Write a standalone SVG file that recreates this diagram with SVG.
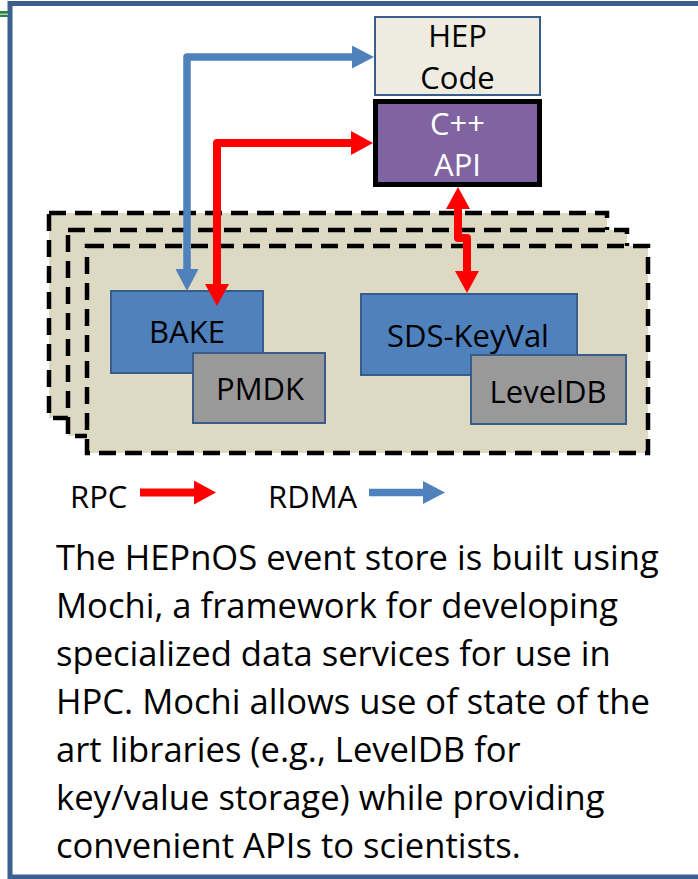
<svg xmlns="http://www.w3.org/2000/svg" width="698" height="879" viewBox="0 0 698 879">
<style>
text{font-family:"Open Sans","Liberation Sans",sans-serif;font-size:31px;fill:#000}
.c{text-anchor:middle}
.w{fill:#fff}
.p{font-size:34.6px}
.box{stroke:#385D8A;stroke-width:2}
.blue{fill:#4F81BD}
.gray{fill:#999999}
.stack{fill:#DDD9C3;stroke:#000;stroke-width:4.5;stroke-dasharray:17 9}
.red{fill:none;stroke:#FF0000;stroke-width:8;stroke-linejoin:round}
.rdma{fill:none;stroke:#4F81BD;stroke-width:7.5;stroke-linejoin:round}
</style>
<defs>
<marker id="hr" viewBox="0 0 22 24" refX="0" refY="12" markerWidth="22" markerHeight="24" markerUnits="userSpaceOnUse" orient="auto-start-reverse"><path d="M0,0 L22,12 L0,24 Z" fill="#FF0000"/></marker>
<marker id="hb" viewBox="0 0 22 23" refX="0" refY="11.5" markerWidth="22" markerHeight="23" markerUnits="userSpaceOnUse" orient="auto-start-reverse"><path d="M0,0 L22,11.5 L0,23 Z" fill="#4F81BD"/></marker>
</defs>
<rect x="10" y="3.5" width="700" height="873.5" fill="#fff" stroke="#3B5F8F" stroke-width="5"/>
<rect x="0" y="11" width="8" height="6" fill="#2E7D4F"/>
<rect x="0" y="13.5" width="8" height="1.5" fill="#A8D5B0"/>
<g id="stack">
<rect class="stack" x="49" y="213" width="558" height="205"/>
<rect class="stack" x="68" y="230" width="559" height="206"/>
<rect class="stack" x="87" y="246" width="561" height="207"/>
</g>
<g id="hep-code">
<rect class="box" x="375" y="17" width="165" height="78" fill="#EEECE1"/>
<text class="c" x="457.5" y="47">HEP</text>
<text class="c" x="457.5" y="89">Code</text>
</g>
<g id="cpp-api">
<rect x="375.5" y="101.5" width="164" height="83" fill="#8064A2" stroke="#000" stroke-width="5"/>
<text class="c w" x="457.5" y="135">C++</text>
<text class="c w" x="457.5" y="176">API</text>
</g>
<g id="bake">
<rect class="box blue" x="111" y="291" width="152" height="82"/>
<text class="c" x="187" y="343">BAKE</text>
</g>
<g id="pmdk">
<rect class="box gray" x="193" y="353" width="132" height="70"/>
<text class="c" x="260" y="400">PMDK</text>
</g>
<g id="sds-keyval">
<rect class="box blue" x="361" y="294" width="216" height="81"/>
<text class="c" x="468" y="347">SDS-KeyVal</text>
</g>
<g id="leveldb">
<rect class="box gray" x="471" y="355" width="155" height="69"/>
<text class="c" x="548" y="403">LevelDB</text>
</g>
<g id="connectors">
<path class="rdma" d="M187,269 V57 H352" marker-start="url(#hb)" marker-end="url(#hb)"/>
<path class="red" d="M217,284 V143 H351" marker-start="url(#hr)" marker-end="url(#hr)"/>
<path class="red" d="M458,209 V238 H467 V271" marker-start="url(#hr)" marker-end="url(#hr)"/>
</g>
<g id="legend">
<text x="70" y="508">RPC</text>
<path class="red" d="M140,492.5 H194" marker-end="url(#hr)"/>
<text x="268" y="508">RDMA</text>
<path class="rdma" d="M369,492.5 H423" marker-end="url(#hb)"/>
</g>
<g id="caption">
<text class="p" x="56" y="570">The HEPnOS event store is built using</text>
<text class="p" x="56" y="618">Mochi, a framework for developing</text>
<text class="p" x="56" y="666">specialized data services for use in</text>
<text class="p" x="56" y="714">HPC. Mochi allows use of state of the</text>
<text class="p" x="56" y="762">art libraries (e.g., LevelDB for</text>
<text class="p" x="56" y="810">key/value storage) while providing</text>
<text class="p" x="56" y="858">convenient APIs to scientists.</text>
</g>
</svg>
